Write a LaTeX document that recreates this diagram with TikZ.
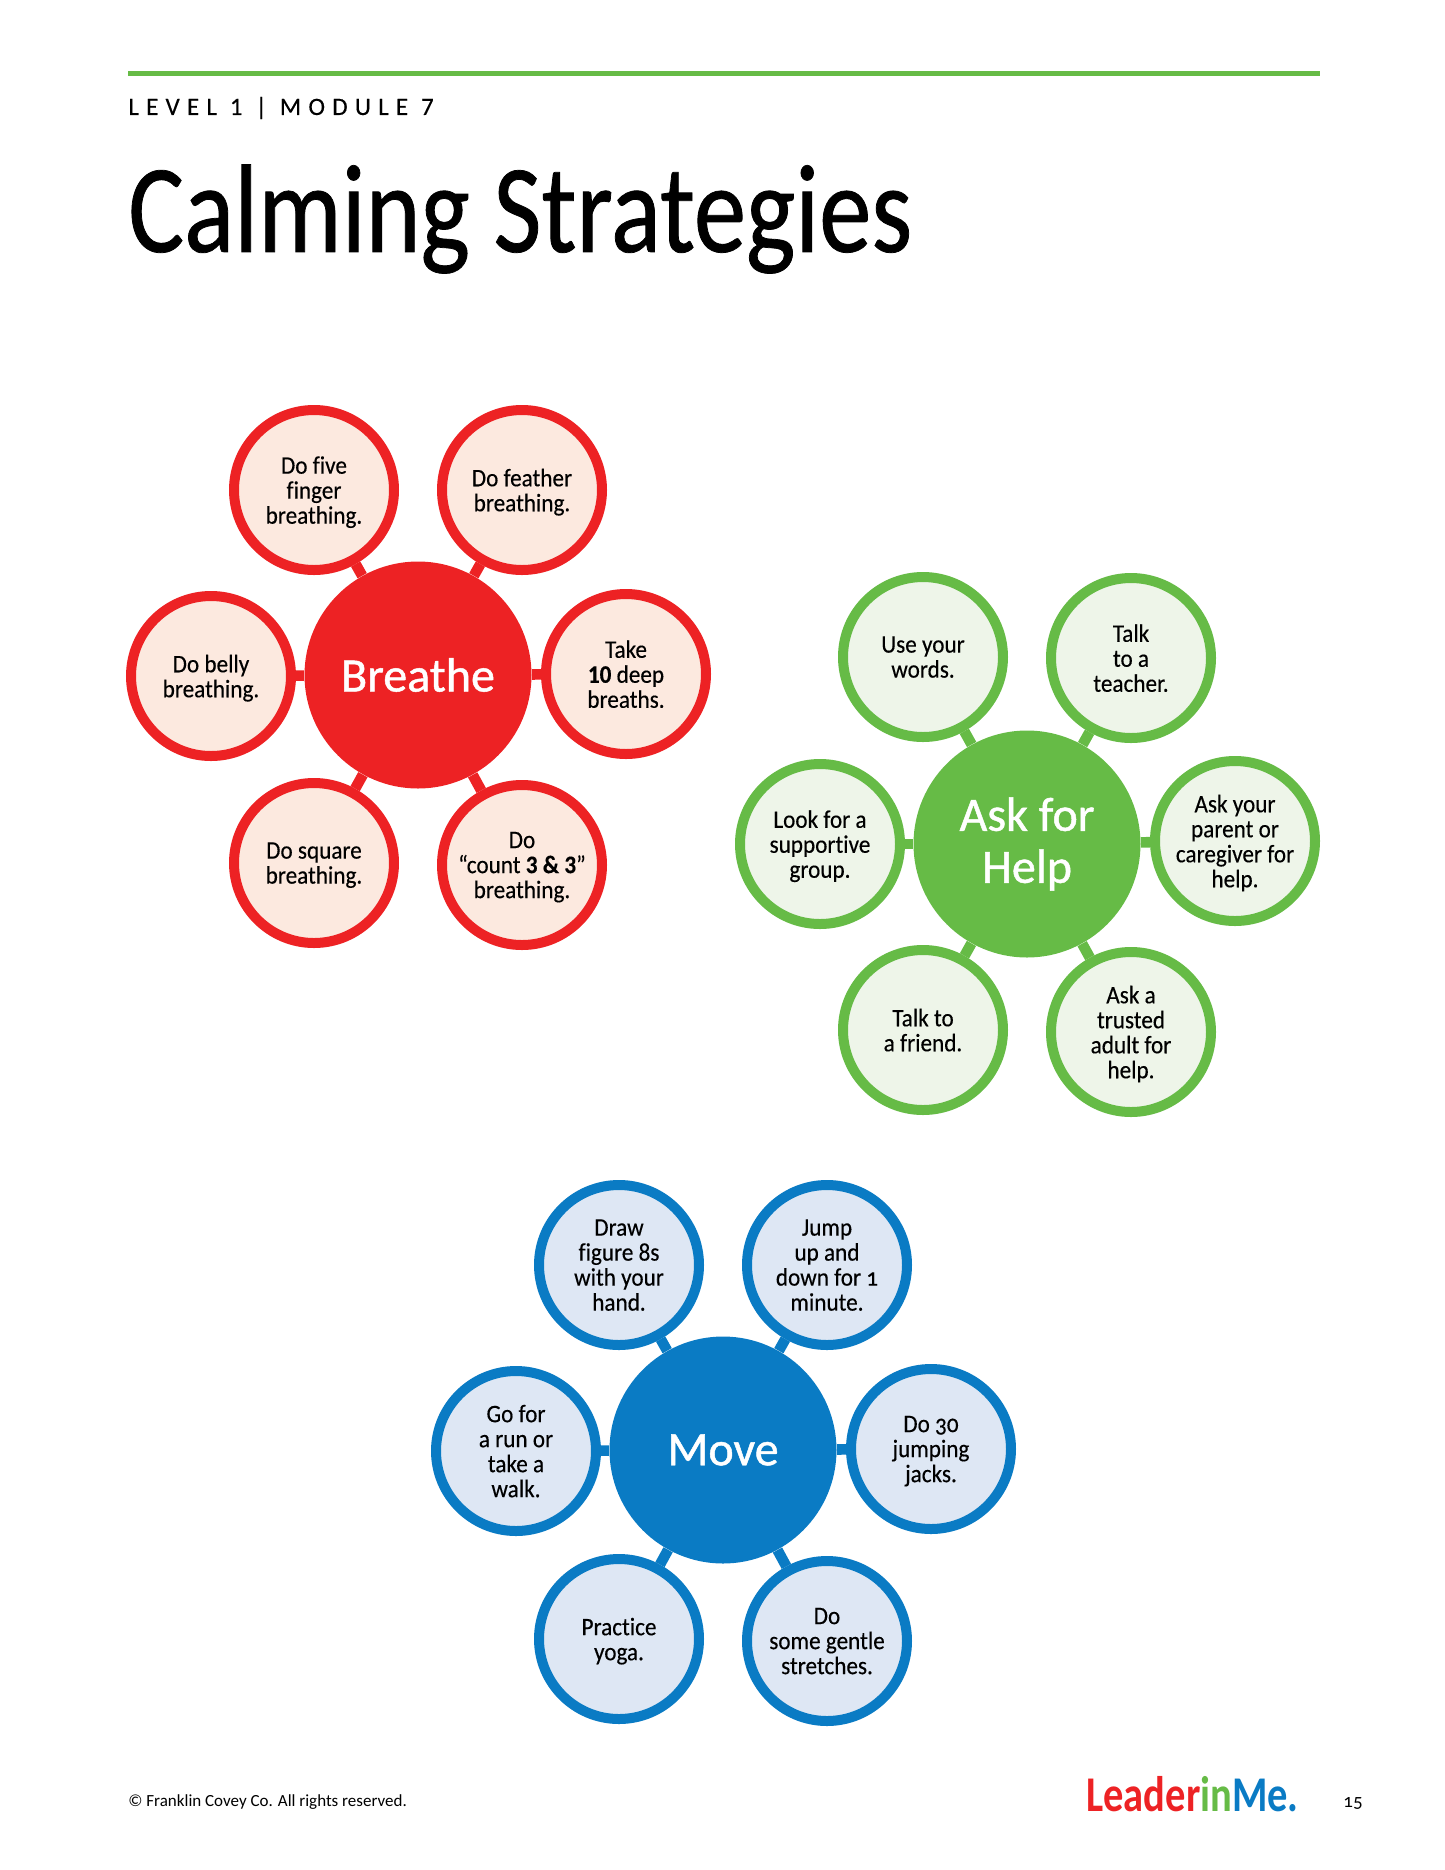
\documentclass[tikz,border=0pt]{standalone}
\usepackage{fontspec}
\setmainfont{Carlito}[Ligatures=NoCommon]
\usepackage{tikz}
\usetikzlibrary{positioning,calc}

\definecolor{cred}{HTML}{ED2224}
\definecolor{credlt}{HTML}{FCE9DF}
\definecolor{cgreen}{HTML}{66BB46}
\definecolor{cgreenlt}{HTML}{EEF5E9}
\definecolor{cblue}{HTML}{0A7BC4}
\definecolor{cbluelt}{HTML}{DEE7F4}
\newcommand{\oldnum}[1]{{\addfontfeature{Numbers=OldStyle}#1}}

\begin{document}
\begin{tikzpicture}[x=0.5pt, y=-0.5pt,
  hub/.style={circle, fill=#1, inner sep=0pt, minimum size=113.5pt, text=white, align=center, font=\fontsize{24}{26}\selectfont\addfontfeature{FakeBold=1}},
  leaf/.style={circle, draw=#1, fill=#1lt, line width=5pt, inner sep=0pt, minimum size=80pt, align=center, text depth=0pt, font=\fontsize{12.6}{12.5}\selectfont\addfontfeature{FakeStretch=0.92,FakeBold=0.3}},
  spoke/.style={draw=#1, line width=5.3pt}]
\useasboundingbox (0,0) rectangle (1445,1870);

\coordinate (rulea) at (128,73);
\coordinate (ruleb) at (1320,73);
\draw[cgreen, line width=2.5pt] (rulea) -- (ruleb);
\node (level) [anchor=west, inner sep=0pt] at (128,108) {\fontsize{12.5}{13}\selectfont\addfontfeature{LetterSpace=29,FakeBold=0.3}LEVEL 1 | MODULE 7};
\node (title) [anchor=west, inner sep=0pt] at (128,219) {\fontsize{63}{63}\selectfont\addfontfeature{FakeStretch=0.83,FakeBold=0.6}Calming Strategies};

% Breathe
\node[hub=cred] (breathe) at (418,675) {Breathe};
\node[leaf=cred] (b1) at (314,490) {Do five\\finger\\breathing.};
\node[leaf=cred] (b2) at (522,490) {Do feather\\breathing.};
\node[leaf=cred] (b3) at (626,674) {Take\\\textbf{10} deep\\breaths.};
\node[leaf=cred] (b4) at (522,865) {Do\\“count \textbf{3 \& 3}”\\breathing.};
\node[leaf=cred] (b5) at (314,863) {Do square\\breathing.};
\node[leaf=cred] (b6) at (211,676) {Do belly\\breathing.};

\draw[spoke=cred] (breathe) -- (b1);
\draw[spoke=cred] (breathe) -- (b2);
\draw[spoke=cred] (breathe) -- (b3);
\draw[spoke=cred] (breathe) -- (b4);
\draw[spoke=cred] (breathe) -- (b5);
\draw[spoke=cred] (breathe) -- (b6);

% Ask for Help
\node[hub=cgreen] (help) at (1027,844) {Ask for\\Help};
\node[leaf=cgreen] (h1) at (923,657) {Use your\\words.};
\node[leaf=cgreen] (h2) at (1131,658) {Talk\\to a\\teacher.};
\node[leaf=cgreen] (h3) at (1235,841) {Ask your\\parent or\\caregiver for\\help.};
\node[leaf=cgreen] (h4) at (1131,1032) {Ask a\\trusted\\adult for\\help.};
\node[leaf=cgreen] (h5) at (923,1030) {Talk to\\a friend.};
\node[leaf=cgreen] (h6) at (820,844) {Look for a\\supportive\\group.};

\draw[spoke=cgreen] (help) -- (h1);
\draw[spoke=cgreen] (help) -- (h2);
\draw[spoke=cgreen] (help) -- (h3);
\draw[spoke=cgreen] (help) -- (h4);
\draw[spoke=cgreen] (help) -- (h5);
\draw[spoke=cgreen] (help) -- (h6);

% Move
\node[hub=cblue] (move) at (723,1450) {Move};
\node[leaf=cblue] (m1) at (619,1265) {Draw\\figure 8s\\with your\\hand.};
\node[leaf=cblue] (m2) at (827,1265) {Jump\\up and\\down for \oldnum{1}\\minute.};
\node[leaf=cblue] (m3) at (931,1449) {Do \oldnum{30}\\jumping\\jacks.};
\node[leaf=cblue] (m4) at (827,1641) {Do\\some gentle\\stretches.};
\node[leaf=cblue] (m5) at (619,1639) {Practice\\yoga.};
\node[leaf=cblue] (m6) at (516,1451) {Go for\\a run or\\take a\\walk.};

\draw[spoke=cblue] (move) -- (m1);
\draw[spoke=cblue] (move) -- (m2);
\draw[spoke=cblue] (move) -- (m3);
\draw[spoke=cblue] (move) -- (m4);
\draw[spoke=cblue] (move) -- (m5);
\draw[spoke=cblue] (move) -- (m6);

% footer
\node (rights) [anchor=west, inner sep=0pt] at (128,1802) {\fontsize{8.5}{9}\selectfont © Franklin Covey Co. All rights reserved.};
\node (logo) [anchor=west, inner sep=0pt] at (1086,1794) {\fontsize{25}{26}\bfseries\selectfont\addfontfeature{FakeStretch=0.81}\textcolor{cred}{Leader}\textcolor{cgreen}{in}\textcolor{cblue}{Me.}};
\node (page) [inner sep=0pt] at (1353,1803) {\fontsize{9.5}{10}\selectfont\oldnum{15}};
\end{tikzpicture}
\end{document}
